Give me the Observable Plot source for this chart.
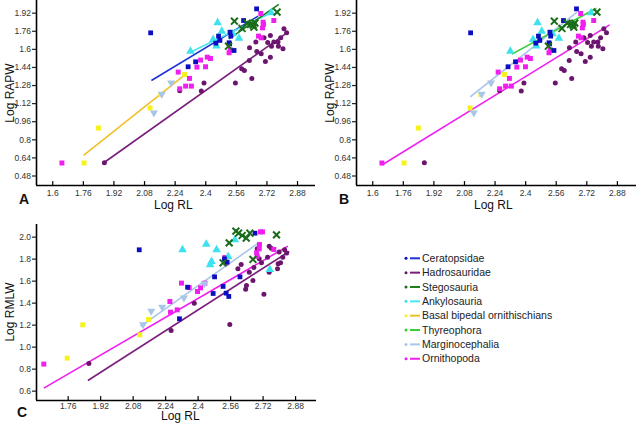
<!DOCTYPE html>
<html><head><meta charset="utf-8">
<script src="https://cdn.jsdelivr.net/npm/d3@7"></script>
<script src="https://cdn.jsdelivr.net/npm/@observablehq/plot@0.6"></script>
<style>
body{margin:0;background:#fff;}
#wrap{position:relative;width:643px;height:425px;overflow:hidden;font-family:"Liberation Sans",Arial,sans-serif;color:#111;}
.abs{position:absolute;white-space:nowrap;}
.letter{font-weight:bold;font-size:14px;}
.title{font-size:12px;line-height:12px;}
</style></head><body><div id="wrap"></div>
<script>
// ---------- categories & styling ----------
const groups = ["Ceratopsidae","Hadrosauridae","Stegosauria","Ankylosauria","Basal bipedal ornithischians","Thyreophora","Marginocephalia","Ornithopoda"];
const dotColors  = ["#0c0cc0","#6c156e","#1a6c1a","#3ee2ee","#f6f21e","#35cc35","#a8c6e8","#f01ff0"];
const lineColors = ["#1e32d6","#7a1e7e","#1f801f","#48e6f2","#f0c02a","#35cc35","#a8c6e8","#f01ff0"];

// ---------- ticks ----------
const xTicksAB = [1.6,1.76,1.92,2.08,2.24,2.4,2.56,2.72,2.88];
const xTicksC  = [1.76,1.92,2.08,2.24,2.4,2.56,2.72,2.88];
const yTicksAB = [0.48,0.64,0.8,0.96,1.12,1.28,1.44,1.6,1.76,1.92];
const yTicksC  = [0.6,0.8,1.0,1.2,1.4,1.6,1.8,2.0];

// ---------- data: Log RL vs Log RAPW (panels A and B) ----------
const ceratopsidaeRAPW = [[2.112,1.746],[2.666,1.958],[2.598,1.855],[2.467,1.717],[2.527,1.752],[2.522,1.658],[2.525,1.648],[2.548,1.590],[2.474,1.679],[2.347,1.490],[2.308,1.446],[2.453,1.655],[2.531,1.717]];
const hadrosauridaeRAPW = [[1.870,0.598],[2.264,1.234],[2.377,1.231],[2.391,1.302],[2.555,1.302],[2.588,1.428],[2.602,1.413],[2.641,1.343],[2.629,1.614],[2.628,1.502],[2.662,1.664],[2.667,1.581],[2.690,1.561],[2.712,1.493],[2.705,1.702],[2.724,1.661],[2.738,1.723],[2.738,1.531],[2.744,1.628],[2.756,1.664],[2.778,1.664],[2.780,1.628],[2.792,1.702],[2.804,1.605],[2.809,1.782],[2.823,1.746]];
const stegosauriaRAPW = [[2.550,1.849],[2.590,1.785],[2.617,1.832],[2.635,1.820],[2.648,1.814],[2.657,1.832],[2.652,1.796],[2.773,1.929],[2.519,1.628]];
const ankylosauriaRAPW = [[2.320,1.584],[2.462,1.835],[2.439,1.687],[2.456,1.629],[2.484,1.761],[2.541,1.737],[2.574,1.699],[2.742,1.923]];
const basalRAPW = [[1.764,0.595],[1.839,0.904],[2.109,1.081],[2.166,1.201],[2.289,1.378]];
const marginocephaliaRAPW = [[2.129,1.039],[2.219,1.304],[2.170,1.205]];
const ornithopodaRAPW = [[1.648,0.595],[2.256,1.399],[2.264,1.251],[2.295,1.275],[2.325,1.275],[2.315,1.343],[2.354,1.443],[2.373,1.505],[2.399,1.446],[2.408,1.531],[2.425,1.519],[2.522,1.570],[2.529,1.596],[2.676,1.717],[2.690,1.702],[2.697,1.790],[2.700,1.840],[2.702,1.820],[2.688,1.917],[2.756,1.855]];

// ---------- data: Log RL vs Log RMLW (panel C) ----------
const ceratopsidaeRMLW = [[2.110,1.885],[2.308,1.258],[2.348,1.545],[2.474,1.488],[2.481,1.639],[2.523,1.552],[2.530,1.803],[2.543,1.773],[2.538,1.491],[2.551,1.461],[2.606,1.639],[2.680,2.036]];
const hadrosauridaeRMLW = [[1.862,0.852],[2.267,1.152],[2.381,1.400],[2.556,1.206],[2.596,1.712],[2.612,1.752],[2.634,1.527],[2.638,1.561],[2.652,1.682],[2.670,1.606],[2.675,1.724],[2.691,1.894],[2.701,1.803],[2.712,1.767],[2.724,1.482],[2.742,1.818],[2.750,1.918],[2.760,1.900],[2.750,1.682],[2.791,1.712],[2.794,1.758],[2.799,1.864],[2.806,1.767],[2.817,1.818],[2.826,1.885],[2.836,1.855]];
const stegosauriaRMLW = [[2.523,1.767],[2.553,1.948],[2.586,2.055],[2.599,2.036],[2.617,2.015],[2.637,1.991],[2.655,2.036],[2.670,1.797],[2.786,2.021]];
const ankylosauriaRMLW = [[2.323,1.885],[2.440,1.936],[2.459,1.749],[2.466,1.779],[2.491,1.885],[2.548,1.824],[2.581,1.976],[2.753,1.706]];
const basalRMLW = [[1.755,0.900],[1.832,1.203],[2.113,1.112],[2.156,1.252]];
const marginocephaliaRMLW = [[2.129,1.206],[2.169,1.327],[2.223,1.364],[2.330,1.449],[2.432,1.579]];
const ornithopodaRMLW = [[1.640,0.846],[2.261,1.415],[2.264,1.318],[2.297,1.339],[2.318,1.582],[2.356,1.542],[2.397,1.506],[2.412,1.539],[2.433,1.582],[2.532,1.815],[2.537,1.764],[2.688,1.858],[2.702,1.933],[2.701,1.894],[2.707,2.048],[2.717,2.048],[2.773,1.888],[2.691,1.827]];

// ---------- fitted lines (group, x1, y1, x2, y2) ----------
const linesA = [
  ["Basal bipedal ornithischians",1.761,0.663,2.297,1.384],
  ["Hadrosauridae",1.865,0.595,2.830,1.752],
  ["Ceratopsidae",2.116,1.325,2.674,1.894],
  ["Ankylosauria",2.320,1.575,2.742,1.923],
  ["Stegosauria",2.522,1.693,2.782,1.997]
];
const linesB = [
  ["Ornithopoda",1.648,0.577,2.839,1.817],
  ["Marginocephalia",2.110,1.179,2.669,1.929],
  ["Thyreophora",2.328,1.558,2.770,1.964]
];
const linesC = [
  ["Ornithopoda",1.640,0.627,2.842,1.918],
  ["Hadrosauridae",1.857,0.697,2.849,1.870],
  ["Marginocephalia",2.116,1.188,2.691,1.939]
];

// ---------- build tables ----------
const colorOf = g => dotColors[groups.indexOf(g)];
const lineColorOf = g => lineColors[groups.indexOf(g)];
const toRows = (arr, group) => arr.map(([x, y]) => ({x, y, group}));
const toLines = arr => arr.map(([group, x1, y1, x2, y2]) => ({group, x1, y1, x2, y2}));

const setAB = {
  "Ceratopsidae": ceratopsidaeRAPW, "Hadrosauridae": hadrosauridaeRAPW, "Stegosauria": stegosauriaRAPW,
  "Ankylosauria": ankylosauriaRAPW, "Basal bipedal ornithischians": basalRAPW,
  "Marginocephalia": marginocephaliaRAPW, "Ornithopoda": ornithopodaRAPW
};
const setC = {
  "Ceratopsidae": ceratopsidaeRMLW, "Hadrosauridae": hadrosauridaeRMLW, "Stegosauria": stegosauriaRMLW,
  "Ankylosauria": ankylosauriaRMLW, "Basal bipedal ornithischians": basalRMLW,
  "Marginocephalia": marginocephaliaRMLW, "Ornithopoda": ornithopodaRMLW
};

function dotMarks(set) {
  const m = [];
  const fillDot = (g, symbol, r, extra = {}) =>
    Plot.dot(toRows(set[g], g), {x: "x", y: "y", symbol, r, fill: colorOf(g), stroke: "none", ...extra});
  m.push(fillDot("Hadrosauridae", "circle", 2.5));
  m.push(fillDot("Basal bipedal ornithischians", "square", 2.8));
  m.push(fillDot("Ornithopoda", "square", 2.8));
  m.push(fillDot("Ankylosauria", "triangle", 3.2));
  m.push(fillDot("Marginocephalia", "triangle", 3.0, {rotate: 180}));
  m.push(fillDot("Ceratopsidae", "square", 2.7));
  m.push(Plot.dot(toRows(set["Stegosauria"], "Stegosauria"),
    {x: "x", y: "y", symbol: "times", r: 3.2, stroke: colorOf("Stegosauria"), strokeWidth: 2, fill: "none"}));
  return m;
}

const upTick = {draw(ctx, l) { ctx.moveTo(0, 0); ctx.lineTo(0, -l); }};

function panel({width, height, marginLeft, marginRight, marginTop, marginBottom, xDomain, yDomain, xTicks, yTicks, yFormat, set, lines, xPad}) {
  return Plot.plot({
    width, height, marginLeft, marginRight, marginTop, marginBottom,
    style: {fontFamily: "'Liberation Sans', Arial, sans-serif", fontSize: "8.5px", color: "#222", background: "transparent", overflow: "visible"},
    x: {domain: xDomain},
    y: {domain: yDomain},
    marks: [
      Plot.link(toLines(lines), {x1: "x1", y1: "y1", x2: "x2", y2: "y2", stroke: d => lineColorOf(d.group), strokeWidth: 1.6}),
      ...dotMarks(set),
      Plot.axisX(xTicks, {tickSize: 0, tickPadding: xPad, tickFormat: d => String(d), label: null, fill: "#333"}),
      Plot.vector(xTicks, {x: d => d, y: yDomain[0], length: 4, rotate: 0, anchor: "start", shape: upTick, stroke: "#000", strokeWidth: 1.2}),
      Plot.axisY(yTicks, {tickSize: 4, tickPadding: 1.5, tickFormat: yFormat, label: null, fill: "#333", strokeWidth: 1.2}),
      Plot.ruleX([xDomain[0]], {stroke: "#000", strokeWidth: 1.6}),
      Plot.ruleY([yDomain[0]], {stroke: "#000", strokeWidth: 1.6})
    ]
  });
}

const wrap = document.getElementById("wrap");
function place(el, left, top) { el.style.position = "absolute"; el.style.left = left + "px"; el.style.top = top + "px"; wrap.appendChild(el); }

// Panel A
place(panel({width: 320, height: 210, marginLeft: 36, marginRight: 5, marginTop: 0, marginBottom: 25,
  xDomain: [1.515, 2.974], yDomain: [0.396, 2.032], xTicks: xTicksAB, yTicks: yTicksAB,
  yFormat: d => String(d), set: setAB, lines: linesA, xPad: 4}), 0, 0);
// Panel B
place(panel({width: 323, height: 210, marginLeft: 36, marginRight: 7, marginTop: 0, marginBottom: 25,
  xDomain: [1.515, 2.98], yDomain: [0.396, 2.032], xTicks: xTicksAB, yTicks: yTicksAB,
  yFormat: d => String(d), set: setAB, lines: linesB, xPad: 4}), 320, 0);
// Panel C
place(panel({width: 320, height: 215, marginLeft: 36, marginRight: 4, marginTop: 14, marginBottom: 25,
  xDomain: [1.604, 2.983], yDomain: [0.515, 2.115], xTicks: xTicksC, yTicks: yTicksC,
  yFormat: d => d.toFixed(1), set: setC, lines: linesC, xPad: 2}), 0, 210);

// text labels
function text(str, cls, left, top, extra = "") {
  const d = document.createElement("div");
  d.className = "abs " + cls; d.textContent = str;
  d.style.cssText += `left:${left}px;top:${top}px;${extra}`;
  wrap.appendChild(d); return d;
}
text("A", "letter", 19, 191);
text("B", "letter", 339, 191);
text("C", "letter", 17, 404);
text("Log RL", "title", 154, 199);
text("Log RL", "title", 474, 199);
text("Log RL", "title", 161, 410);
text("Log RAPW", "title", 10, 93, "transform:translate(-50%,-50%) rotate(-90deg);");
text("Log RAPW", "title", 330, 93, "transform:translate(-50%,-50%) rotate(-90deg);");
text("Log RMLW", "title", 10, 312, "transform:translate(-50%,-50%) rotate(-90deg);");

// legend
const leg = d3.select(wrap).append("svg").attr("width", 220).attr("height", 130)
  .style("position", "absolute").style("left", "400px").style("top", "250px")
  .style("font-family", "'Liberation Sans', Arial, sans-serif");
groups.forEach((g, i) => {
  const y = 8.3 + i * 14.35;
  leg.append("circle").attr("cx", 6).attr("cy", y).attr("r", 1.5).attr("fill", dotColors[i]);
  leg.append("line").attr("x1", 10).attr("x2", 20).attr("y1", y).attr("y2", y).attr("stroke", lineColors[i]).attr("stroke-width", 2);
  leg.append("text").attr("x", 22).attr("y", y).attr("dy", "0.35em").attr("font-size", "10.5px").attr("fill", "#222").text(g);
});
</script></body></html>
